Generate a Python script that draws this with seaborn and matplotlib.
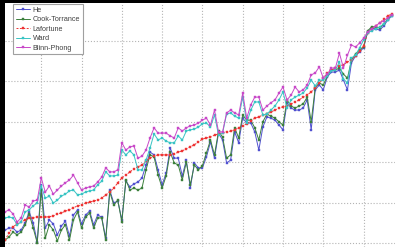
import numpy as np
import pandas as pd
import matplotlib
matplotlib.use("Agg")
import matplotlib.pyplot as plt
import seaborn as sns

sns.set_theme(style="white")
plt.rcParams['font.family'] = ['Liberation Sans', 'DejaVu Sans']

# sample index (1..97)
idx = list(range(1, 98))

he = [3.2, 3.7, 3.7, 2.7, 3.2, 5.0, 7.7, 5.0, 0.2, 14.4,
      3.7, 5.7, 4.7, 2.0, 4.2, 5.4, 1.7, 6.9, 8.2, 4.7,
      6.9, 7.9, 4.5, 6.9, 6.4, 1.2, 13.1, 9.9, 10.4, 5.7,
      15.3, 13.9, 14.6, 15.1, 16.1, 19.3, 22.5, 21.8, 18.1, 14.4,
      17.3, 23.5, 21.0, 21.0, 16.6, 20.5, 13.6, 19.8, 18.6, 18.6,
      21.3, 25.0, 21.0, 27.2, 25.5, 19.8, 20.5, 27.5, 24.8, 30.9,
      29.7, 29.7, 27.5, 23.0, 28.7, 31.2, 30.9, 30.4, 29.2, 28.0,
      34.7, 33.4, 32.9, 32.9, 33.4, 35.4, 28.0, 37.9, 39.1, 37.9,
      41.1, 42.3, 42.3, 42.8, 40.3, 37.9, 44.6, 46.3, 47.3, 48.3,
      52.2, 53.2, 53.0, 52.7, 53.7, 55.2, 56.2]

cook_torrance = [0.7, 1.5, 2.7, 2.0, 2.7, 4.5, 7.2, 3.7, 0.0, 13.1,
                 1.2, 4.5, 3.2, 0.5, 3.2, 4.5, 0.7, 5.7, 7.7, 3.7,
                 6.4, 7.4, 3.7, 6.2, 6.2, 0.7, 12.6, 9.4, 10.6, 5.2,
                 15.6, 13.1, 13.6, 13.1, 13.6, 18.1, 21.8, 21.3, 16.8, 13.6,
                 16.6, 22.5, 19.8, 19.3, 15.6, 20.0, 14.4, 19.3, 18.1, 19.1,
                 22.3, 25.5, 21.8, 27.7, 26.2, 21.0, 21.8, 28.5, 26.0, 31.7,
                 30.4, 30.4, 28.5, 25.5, 30.0, 31.9, 31.4, 30.9, 30.0, 29.2,
                 35.4, 33.9, 33.4, 33.9, 34.4, 36.1, 30.0, 38.4, 39.6, 39.1,
                 41.3, 42.8, 42.8, 43.3, 41.8, 40.8, 45.3, 46.8, 47.8, 48.5,
                 52.5, 53.5, 53.5, 53.2, 54.2, 55.4, 56.4]

lafortune = [0.7, 2.5, 4.0, 4.7, 5.2, 5.7, 6.2, 6.2, 6.4, 6.4,
             6.4, 6.5, 6.7, 7.2, 7.4, 7.9, 8.2, 8.7, 9.2, 9.4,
             9.9, 10.1, 10.4, 10.6, 11.1, 11.9, 12.6, 13.6, 14.9, 16.1,
             16.8, 17.6, 18.3, 18.8, 19.3, 20.3, 21.0, 21.5, 21.8, 21.8,
             21.8, 21.8, 22.0, 22.5, 22.8, 23.3, 23.8, 24.3, 25.0, 25.7,
             26.0, 26.2, 26.7, 27.0, 27.2, 27.5, 27.7, 28.0, 28.5, 29.0,
             29.5, 30.2, 30.9, 31.2, 31.7, 31.9, 32.4, 32.9, 33.4, 33.7,
             33.9, 34.4, 34.9, 35.4, 36.1, 36.6, 37.4, 38.4, 39.6, 40.8,
             42.1, 42.8, 43.3, 43.8, 44.1, 44.8, 45.3, 46.3, 47.5, 48.8,
             52.0, 53.0, 53.7, 54.5, 55.4, 56.2, 56.7]

ward = [6.2, 6.4, 6.2, 4.5, 5.2, 7.7, 8.2, 9.2, 9.9, 14.1,
        11.1, 11.6, 9.9, 10.6, 11.6, 12.1, 12.9, 13.1, 11.9, 12.1,
        12.6, 12.9, 13.1, 14.4, 15.3, 17.6, 16.6, 16.6, 16.8, 23.0,
        21.8, 22.8, 21.8, 18.1, 18.1, 20.5, 23.5, 27.0, 25.5, 26.0,
        25.2, 24.8, 24.8, 26.5, 25.5, 27.7, 28.0, 28.2, 28.7, 29.5,
        29.7, 28.7, 31.7, 26.7, 27.2, 31.9, 32.2, 31.4, 30.9, 36.1,
        29.7, 32.9, 34.9, 34.9, 31.7, 31.9, 32.9, 33.9, 35.4, 37.4,
        33.4, 35.4, 36.1, 36.6, 37.1, 38.4, 40.3, 38.9, 40.3, 40.3,
        41.3, 42.6, 42.8, 44.8, 40.6, 39.6, 45.8, 46.5, 48.3, 50.2,
        52.0, 52.5, 53.0, 53.5, 54.2, 55.2, 56.2]

blinn_phong = [7.7, 8.2, 7.2, 5.2, 6.2, 9.4, 8.9, 10.4, 10.6, 16.1,
               12.6, 14.1, 12.1, 13.1, 14.1, 14.9, 15.6, 16.8, 14.9, 13.1,
               13.6, 13.9, 14.1, 15.1, 16.3, 18.6, 17.6, 17.6, 18.1, 24.8,
               23.0, 23.8, 24.0, 21.0, 21.5, 23.0, 26.0, 28.5, 27.2, 27.2,
               27.2, 26.5, 26.0, 28.5, 27.7, 28.5, 29.0, 29.2, 29.7, 30.4,
               30.9, 29.2, 32.9, 27.5, 27.5, 32.2, 32.9, 32.2, 31.7, 37.1,
               30.9, 34.2, 36.1, 36.1, 32.9, 33.9, 34.7, 35.4, 37.1, 38.6,
               35.4, 36.6, 38.6, 37.4, 37.9, 39.1, 41.6, 42.1, 43.6, 40.8,
               41.8, 43.3, 43.3, 47.0, 43.3, 46.5, 49.0, 48.5, 49.5, 50.7,
               52.2, 53.0, 53.7, 54.5, 55.0, 55.7, 56.4]

names = ["He", "Cook-Torrance", "Lafortune", "Ward", "Blinn-Phong"]
series = [he, cook_torrance, lafortune, ward, blinn_phong]
colors = ["#5050d0", "#3c803c", "#ee3434", "#38c4c4", "#c848c8"]
styles = ["-", "-", (0, (2.0, 1.5)), "-", "-"]

W, H = 395, 247
fig = plt.figure(figsize=(W / 100, H / 100), dpi=100)
fig.patch.set_facecolor("black")
ax = fig.add_axes([5 / W, 0, 1 - 5 / W, 1 - 3 / H])
ax.set_facecolor("white")

for name, vals, c, ls in zip(names, series, colors, styles):
    sns.lineplot(x=idx, y=vals, ax=ax, color=c, linestyle=ls, linewidth=0.7,
                 marker="s", markersize=1.6, markeredgewidth=0.3,
                 markeredgecolor=c, label=name)

ax.set_xlim(1.0, 97.8)
ax.set_ylim(-1.0, 59.4)
ax.set_xticks(np.arange(10, 100, 10))
ax.set_yticks(np.arange(0, 60, 10))
ax.tick_params(length=0, labelbottom=False, labelleft=False)
ax.grid(True, linestyle=":", color="#b4b4b4", linewidth=0.8)
ax.set_xlabel("")
ax.set_ylabel("")
for s in ax.spines.values():
    s.set_visible(False)

leg = ax.legend(loc="upper left", bbox_to_anchor=(13 / W, 1 - 4 / H),
                bbox_transform=fig.transFigure, borderaxespad=0,
                fontsize=5.2, frameon=True, fancybox=False,
                handlelength=2.0, handletextpad=0.35, labelspacing=0.35,
                borderpad=0.35, markerscale=1.0)
for t in leg.get_texts():
    t.set_color("#404040")
leg.get_frame().set_edgecolor("#a0a0a0")
leg.get_frame().set_linewidth(0.8)
leg.get_frame().set_facecolor("white")
leg.get_frame().set_alpha(1.0)

fig.savefig("out.png", dpi=100, facecolor=fig.get_facecolor())
